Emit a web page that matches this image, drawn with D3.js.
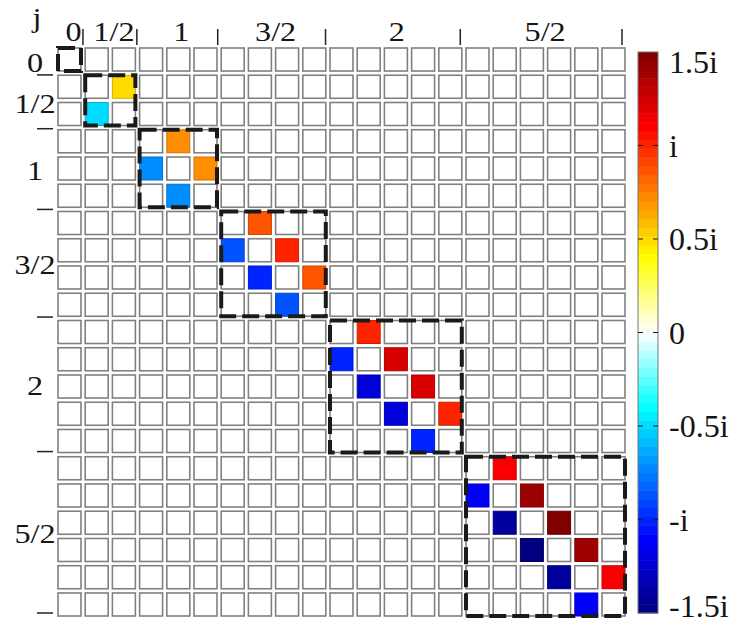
<!DOCTYPE html>
<html>
<head>
<meta charset="utf-8">
<script src="https://cdn.jsdelivr.net/npm/d3@7"></script>
<style>
  body { margin: 0; background: #fff; }
  svg text { font-family: "Liberation Serif", "Times New Roman", serif; fill: #151515; }
</style>
</head>
<body>
<div id="chart"></div>
<script>
// Blocks of the matrix (one per j)
const blockLabels = ["0", "1/2", "1", "3/2", "2", "5/2"];
const blockSizes = [1, 2, 3, 4, 5, 6];

// Values just above / below the diagonal inside each block (imaginary parts)
const upperValues = [[], [0.5], [0.71, 0.71], [0.87, 1.0, 0.87], [1.0, 1.22, 1.22, 1.0], [1.12, 1.41, 1.5, 1.41, 1.12]];
const lowerValues = [[], [-0.5], [-0.71, -0.71], [-0.87, -1.0, -0.87], [-1.0, -1.22, -1.22, -1.0], [-1.12, -1.41, -1.5, -1.41, -1.12]];

// Colorbar
const colorTicks = [1.5, 1, 0.5, 0, -0.5, -1, -1.5];
const colorTickLabels = ["1.5i", "i", "0.5i", "0", "-0.5i", "-i", "-1.5i"];
const colorStops = [-1.5, -1.1, -0.4, 0, 0.4, 1.1, 1.5];
const colorValues = ["#000080", "#0000ff", "#00ffff", "#ffffff", "#ffff00", "#ff0000", "#800000"];

const W = 742, H = 625;
const n = d3.sum(blockSizes);
const starts = blockSizes.map((s, i) => d3.sum(blockSizes.slice(0, i)));

// build cell list
const cells = [];
for (let r = 0; r < n; r++) for (let c = 0; c < n; c++) cells.push({ r, c, v: 0 });
const cellAt = (r, c) => cells[r * n + c];
blockSizes.forEach((s, b) => {
  upperValues[b].forEach((v, k) => { cellAt(starts[b] + k, starts[b] + k + 1).v = v; });
  lowerValues[b].forEach((v, k) => { cellAt(starts[b] + k + 1, starts[b] + k).v = v; });
});

const svg = d3.select("#chart").append("svg")
  .attr("width", W).attr("height", H);

const x = d3.scaleBand().domain(d3.range(n)).range([58, 625]).paddingInner(0.155);
const y = d3.scaleBand().domain(d3.range(n)).range([48, 616]).paddingInner(0.155);
// block boundary scales for the axis ticks
const xb = d3.scaleLinear().domain([0, n]).range([56, 622]);
const yb = d3.scaleLinear().domain([0, n]).range([48, 613]);

const color = d3.scaleLinear().domain(colorStops).range(colorValues).clamp(true);

// cells
svg.append("g").selectAll("rect")
  .data(cells)
  .enter().append("rect")
  .attr("x", d => x(d.c))
  .attr("y", d => y(d.r))
  .attr("width", x.bandwidth())
  .attr("height", y.bandwidth())
  .attr("fill", d => d.v === 0 ? "#fff" : color(d.v))
  .attr("stroke", d => d.v === 0 ? "#808080" : d3.color(color(d.v)).darker(0.6))
  .attr("stroke-width", d => d.v === 0 ? 1.6 : 1);

// dashed block boxes
svg.append("g").selectAll("rect")
  .data(blockSizes.map((s, i) => ({ start: starts[i], end: starts[i] + s - 1 })))
  .enter().append("rect")
  .attr("x", d => x(d.start))
  .attr("y", d => y(d.start))
  .attr("width", d => x(d.end) + x.bandwidth() - x(d.start))
  .attr("height", d => y(d.end) + y.bandwidth() - y(d.start))
  .attr("fill", "none")
  .attr("stroke", "#1a1a1a")
  .attr("stroke-width", 4)
  .attr("stroke-dasharray", "17,6");

// top labels and ticks (labels are a bit wide in the original, hence the x-stretch)
const blocks = blockSizes.map((s, i) => ({ label: blockLabels[i], a: starts[i], b: starts[i] + s }));

svg.append("g").selectAll("line")
  .data(blocks)
  .enter().append("line")
  .attr("x1", d => xb(d.b)).attr("x2", d => xb(d.b))
  .attr("y1", 29).attr("y2", 45)
  .attr("stroke", "#222").attr("stroke-width", 1.5);

svg.append("g").selectAll("text")
  .data(blocks)
  .enter().append("text")
  .attr("transform", d => `translate(${(xb(d.a) + xb(d.b)) / 2 + 4},41) scale(1.15,1)`)
  .attr("text-anchor", "middle")
  .attr("font-size", 28)
  .text(d => d.label);

// left labels and ticks
svg.append("g").selectAll("line")
  .data(blocks)
  .enter().append("line")
  .attr("x1", 37).attr("x2", 53)
  .attr("y1", d => yb(d.b)).attr("y2", d => yb(d.b))
  .attr("stroke", "#222").attr("stroke-width", 1.5);

svg.append("g").selectAll("text")
  .data(blocks)
  .enter().append("text")
  .attr("transform", d => `translate(35,${(yb(d.a) + yb(d.b)) / 2 + 11}) scale(1.15,1)`)
  .attr("text-anchor", "middle")
  .attr("font-size", 28)
  .text(d => d.label);

svg.append("text")
  .attr("transform", "translate(37,27) scale(1.15,1)")
  .attr("text-anchor", "middle")
  .attr("font-size", 28)
  .text("j");

// colorbar
const cb = { x: 638, w: 20 };
const cy = d3.scaleLinear().domain([-1.5, 1.5]).range([613, 52]);
const nBands = 64;
const bandStep = 3 / nBands;
const bands = d3.range(nBands).map(i => -1.5 + i * bandStep);

const cbar = svg.append("g");
cbar.selectAll("rect")
  .data(bands)
  .enter().append("rect")
  .attr("x", cb.x)
  .attr("y", d => cy(d + bandStep))
  .attr("width", cb.w)
  .attr("height", d => cy(d) - cy(d + bandStep) + 0.5)
  .attr("fill", d => color(d + bandStep / 2));

cbar.append("rect")
  .attr("x", cb.x).attr("y", cy(1.5))
  .attr("width", cb.w).attr("height", cy(-1.5) - cy(1.5))
  .attr("fill", "none").attr("stroke", "#777").attr("stroke-width", 1);

cbar.selectAll(".tl")
  .data(colorTicks.slice(1, -1))
  .enter().append("line")
  .attr("x1", cb.x).attr("x2", cb.x + 5)
  .attr("y1", d => cy(d)).attr("y2", d => cy(d))
  .attr("stroke", "#1a1a1a");

cbar.selectAll(".tr")
  .data(colorTicks.slice(1, -1))
  .enter().append("line")
  .attr("x1", cb.x + cb.w - 5).attr("x2", cb.x + cb.w)
  .attr("y1", d => cy(d)).attr("y2", d => cy(d))
  .attr("stroke", "#1a1a1a");

cbar.selectAll("text")
  .data(colorTicks)
  .enter().append("text")
  .attr("x", cb.x + 31)
  .attr("y", d => Math.min(Math.max(cy(d), 62), 606))
  .attr("dy", "0.35em")
  .attr("font-size", 32)
  .text((d, i) => colorTickLabels[i]);
</script>
</body>
</html>
